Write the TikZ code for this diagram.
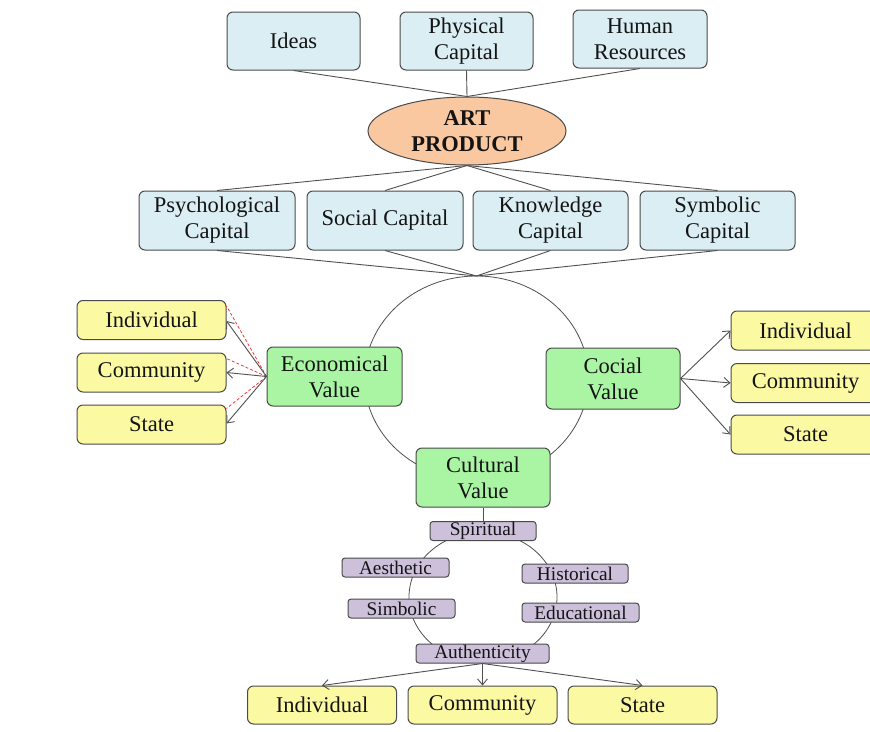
\documentclass[tikz,border=0pt]{standalone}
\usepackage{fontspec}
\setmainfont{Liberation Serif}
\usetikzlibrary{arrows.meta,shapes.geometric,calc}
\definecolor{bluefill}{HTML}{DBEEF4}
\definecolor{peach}{HTML}{FAC8A0}
\definecolor{greenfill}{HTML}{AAF5A4}
\definecolor{yellowfill}{HTML}{FCF9A3}
\definecolor{purplefill}{HTML}{CCC0DA}
\definecolor{edgegray}{HTML}{4A4A4A}
\definecolor{linegray}{HTML}{505050}
\definecolor{txt}{HTML}{141414}
\tikzset{
  basebox/.style={draw=edgegray, line width=1pt, rounded corners=6pt, inner sep=0pt, align=center, text=txt, font=\fontsize{22.5}{26}\selectfont},
  bluebox/.style={basebox, fill=bluefill},
  greenbox/.style={basebox, fill=greenfill},
  yellowbox/.style={basebox, fill=yellowfill, minimum width=149pt, minimum height=39pt},
  purplebox/.style={basebox, fill=purplefill, rounded corners=3pt, minimum height=19pt, font=\fontsize{19.3}{20}\selectfont},
  conn/.style={draw=linegray, line width=0.9pt},
  arr/.style={conn, -{Straight Barb[length=6pt,width=10pt]}},
  reddash/.style={draw=red!80, dashed, dash pattern=on 3pt off 2pt, line width=0.8pt},
  ring/.style={draw=linegray, line width=0.8pt}
}
\begin{document}
\begin{tikzpicture}[x=1pt,y=-1pt]
\useasboundingbox (0,0) rectangle (870,731);
\clip (0,0) rectangle (870,731);
\fill[white] (0,0) rectangle (870,731);

% background rings
\draw[ring] (476.5,378) ellipse [x radius=112, y radius=102];
\coordinate (hub) at (476.5,276);
\draw[ring] (483,597) ellipse [x radius=74, y radius=65];

% top row
\node[bluebox, minimum width=133pt, minimum height=58pt] (ideas) at (293.5,41) {Ideas};
\node[bluebox, minimum width=133pt, minimum height=58pt] (phys) at (466.5,41) {Physical\\Capital};
\node[bluebox, minimum width=134pt, minimum height=58pt] (human) at (640,39) {Human\\Resources};

% art product
\node[ellipse, draw=edgegray, line width=1pt, fill=peach, minimum width=198pt, minimum height=68pt, inner sep=0pt, align=center, text=txt, font=\fontsize{22.5}{26}\selectfont\bfseries] (art) at (467,131) {ART\\PRODUCT};

% second row
\node[bluebox, minimum width=156pt, minimum height=59pt] (psych) at (217,220.5) {Psychological\\Capital};
\node[bluebox, minimum width=156pt, minimum height=59pt] (social) at (385,220.5) {Social Capital};
\node[bluebox, minimum width=155pt, minimum height=59pt] (know) at (550.5,220.5) {Knowledge\\Capital};
\node[bluebox, minimum width=155pt, minimum height=59pt] (symb) at (717.5,220.5) {Symbolic\\Capital};

% green values
\node[greenbox, minimum width=135pt, minimum height=59pt] (econ) at (334.5,376.5) {Economical\\Value};
\node[greenbox, minimum width=134pt, minimum height=61pt] (cocial) at (613,378.5) {Cocial\\Value};
\node[greenbox, minimum width=134pt, minimum height=59pt] (cult) at (483,477.5) {Cultural\\Value};

% left yellow
\node[yellowbox] (lind) at (151.5,320) {Individual};
\node[yellowbox] (lcom) at (151.5,372.5) {Community};
\node[yellowbox] (lsta) at (151.5,424.5) {State};

% right yellow
\node[yellowbox] (rind) at (805.5,330.5) {Individual};
\node[yellowbox] (rcom) at (805.5,383) {Community};
\node[yellowbox] (rsta) at (805.5,434.5) {State};

% purple
\node[purplebox, minimum width=106pt] (spir) at (483,531) {Spiritual};
\node[purplebox, minimum width=107pt] (aest) at (395.5,567.5) {Aesthetic};
\node[purplebox, minimum width=107pt] (simb) at (401.5,608.5) {Simbolic};
\node[purplebox, minimum width=106pt] (hist) at (575,573.5) {Historical};
\node[purplebox, minimum width=117pt] (educ) at (580.5,612.5) {Educational};
\node[purplebox, minimum width=133pt] (auth) at (482.5,653.5) {Authenticity};

% bottom yellow
\node[yellowbox, minimum height=38pt] (bind) at (322,705) {Individual};
\node[yellowbox, minimum height=38pt] (bcom) at (482.5,705) {Community};
\node[yellowbox, minimum height=38pt] (bsta) at (642.5,705) {State};

% connectors top
\draw[conn] (ideas.south) -- (art.north);
\draw[conn] (phys.south) -- (art.north);
\draw[conn] (human.south) -- (art.north);
\draw[conn] (art.south) -- (psych.north);
\draw[conn] (art.south) -- (social.north);
\draw[conn] (art.south) -- (know.north);
\draw[conn] (art.south) -- (symb.north);
\draw[conn] (psych.south) -- (hub);
\draw[conn] (social.south) -- (hub);
\draw[conn] (know.south) -- (hub);
\draw[conn] (symb.south) -- (hub);

% economical arrows
\draw[reddash] (econ.west) -- ([yshift=-6pt]lind.north east);
\draw[reddash] (econ.west) -- ([yshift=-6pt]lcom.north east);
\draw[reddash] (econ.west) -- ([yshift=-4pt]lsta.north east);
\draw[arr] (econ.west) -- ([yshift=-1pt]lind.east);
\draw[arr] (econ.west) -- (lcom.east);
\draw[arr] (econ.west) -- ([yshift=1pt]lsta.east);

% cocial arrows
\draw[arr] (cocial.east) -- (rind.west);
\draw[arr] (cocial.east) -- (rcom.west);
\draw[arr] (cocial.east) -- (rsta.west);

% cultural
\draw[conn] (cult.south) -- (spir.north);
\draw[arr] (auth.south) -- (bind.north);
\draw[arr] (auth.south) -- (bcom.north);
\draw[arr] (auth.south) -- (bsta.north);
\end{tikzpicture}
\end{document}
